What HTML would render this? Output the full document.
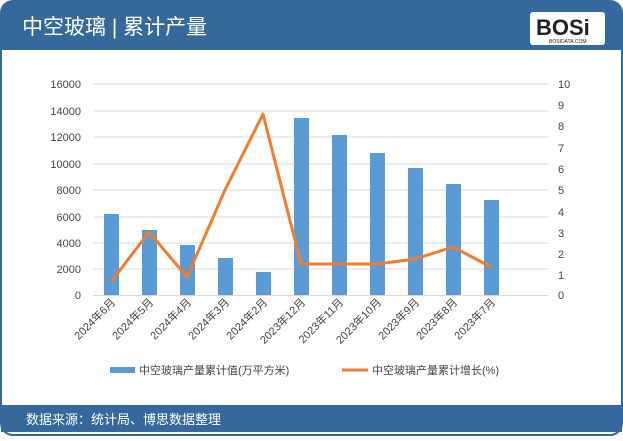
<!DOCTYPE html><html><head><meta charset="utf-8"><style>
body{margin:0;width:623px;height:436px;background:#fff;font-family:"Liberation Sans","Noto Sans CJK SC",sans-serif;overflow:hidden}
</style></head><body>
<svg width="623" height="436" xmlns="http://www.w3.org/2000/svg" font-family="Liberation Sans, Noto Sans CJK SC, sans-serif">
<rect x="1" y="1" width="621" height="434" rx="12" fill="#fff" stroke="#36699b" stroke-width="2"/>
<path d="M1 50 V13 Q1 1 13 1 H610 Q622 1 622 13 V50 Z" fill="#36699b"/>
<text x="22" y="34" font-size="21" fill="#fff">中空玻璃 | 累计产量</text>
<rect x="530" y="12" width="75" height="33" rx="3" fill="#fff"/>
<text x="536" y="35" font-size="22" font-weight="bold" fill="#222">BOSi</text>
<text x="549" y="43" font-size="5" fill="#222">BOSIDATA.COM</text>
<rect x="1" y="405" width="621" height="27" fill="#36699b"/>
<text x="26" y="424" font-size="13" fill="#fff">数据来源：统计局、博思数据整理</text>
<g stroke="#d9d9d9" stroke-width="1">
<line x1="93" x2="548" y1="84" y2="84"/><line x1="93" x2="548" y1="111" y2="111"/><line x1="93" x2="548" y1="137" y2="137"/><line x1="93" x2="548" y1="164" y2="164"/><line x1="93" x2="548" y1="190" y2="190"/><line x1="93" x2="548" y1="217" y2="217"/><line x1="93" x2="548" y1="243" y2="243"/><line x1="93" x2="548" y1="269" y2="269"/><line x1="93" x2="548" y1="295.5" y2="295.5"/>
</g>
<g font-size="11" fill="#444" text-anchor="end">
<text x="81" y="88">16000</text><text x="81" y="115">14000</text><text x="81" y="141">12000</text><text x="81" y="168">10000</text><text x="81" y="194">8000</text><text x="81" y="221">6000</text><text x="81" y="247">4000</text><text x="81" y="273">2000</text><text x="81" y="299">0</text>
</g>
<g font-size="11" fill="#444">
<text x="558" y="88">10</text><text x="558" y="109">9</text><text x="558" y="130">8</text><text x="558" y="152">7</text><text x="558" y="173">6</text><text x="558" y="194">5</text><text x="558" y="216">4</text><text x="558" y="237">3</text><text x="558" y="258">2</text><text x="558" y="279">1</text><text x="558" y="299">0</text>
</g>
<g fill="#5b9bd5">
<rect x="104" y="214" width="15" height="81"/>
<rect x="142" y="230" width="15" height="65"/>
<rect x="180" y="245" width="15" height="50"/>
<rect x="218" y="258" width="15" height="37"/>
<rect x="256" y="272" width="15" height="23"/>
<rect x="294" y="118" width="15" height="177"/>
<rect x="332" y="135" width="15" height="160"/>
<rect x="370" y="153" width="15" height="142"/>
<rect x="408" y="168" width="15" height="127"/>
<rect x="446" y="184" width="15" height="111"/>
<rect x="484" y="200" width="15" height="95"/>
</g>
<polyline fill="none" stroke="#ed7d31" stroke-width="3" stroke-linejoin="round" points="111,282 149,232 187,277 225,190 263,114 301,264 339,264 377,264 415,259 453,247 491,267"/>
<g font-size="11" fill="#444" text-anchor="end">
<text transform="translate(116,303) rotate(-45)">2024年6月</text>
<text transform="translate(154,303) rotate(-45)">2024年5月</text>
<text transform="translate(192,303) rotate(-45)">2024年4月</text>
<text transform="translate(230,303) rotate(-45)">2024年3月</text>
<text transform="translate(268,303) rotate(-45)">2024年2月</text>
<text transform="translate(306,303) rotate(-45)">2023年12月</text>
<text transform="translate(344,303) rotate(-45)">2023年11月</text>
<text transform="translate(382,303) rotate(-45)">2023年10月</text>
<text transform="translate(420,303) rotate(-45)">2023年9月</text>
<text transform="translate(458,303) rotate(-45)">2023年8月</text>
<text transform="translate(496,303) rotate(-45)">2023年7月</text>
</g>
<rect x="110" y="367" width="25" height="6" fill="#5b9bd5"/>
<text x="139" y="374" font-size="11" fill="#444">中空玻璃产量累计值(万平方米)</text>
<line x1="342" x2="368" y1="370" y2="370" stroke="#ed7d31" stroke-width="3"/>
<text x="372" y="374" font-size="11" fill="#444">中空玻璃产量累计增长(%)</text>
</svg>
</body></html>
